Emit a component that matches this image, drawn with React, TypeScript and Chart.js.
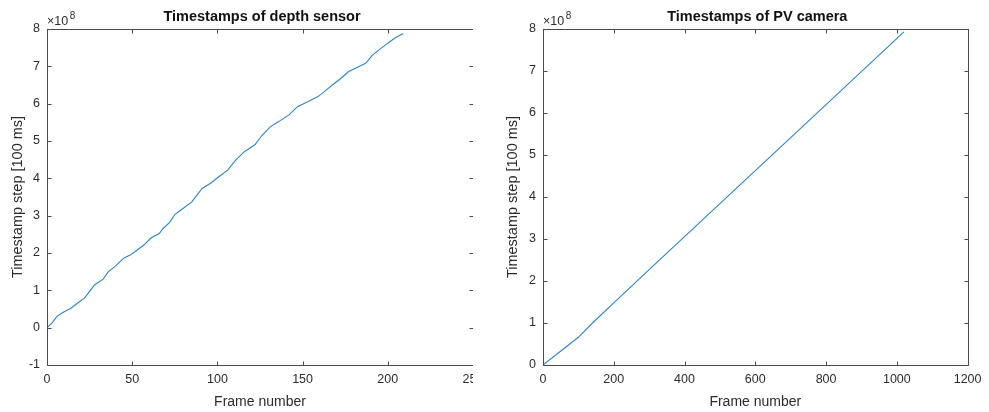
import React, { useEffect, useRef } from "react";
import { Chart, registerables } from "chart.js";

Chart.register(...registerables);

// ---- Data (timestamps in units of 1e8) ----
const depthFrames = [0, 3, 6, 9, 14, 18, 22, 25, 28, 33, 36, 40, 45, 49, 53, 57, 61, 66, 68, 72, 75, 80, 85, 88, 91, 96, 101, 106, 111, 116, 122, 126, 131, 136, 142, 147, 153, 159, 164, 168, 172, 177, 181, 187, 191, 196, 200, 204, 209];
const depthStampsE8 = [0, 0.13, 0.31, 0.4, 0.52, 0.66, 0.79, 0.97, 1.15, 1.3, 1.5, 1.64, 1.86, 1.95, 2.08, 2.22, 2.4, 2.53, 2.65, 2.82, 3.03, 3.2, 3.37, 3.55, 3.73, 3.87, 4.05, 4.22, 4.5, 4.72, 4.9, 5.14, 5.38, 5.52, 5.7, 5.92, 6.05, 6.19, 6.37, 6.52, 6.66, 6.86, 6.95, 7.08, 7.3, 7.48, 7.62, 7.75, 7.88];

const pvFrames = [0, 100, 140, 200, 300, 450, 600, 800, 1020];
const pvStampsE8 = [0, 0.66, 1.0, 1.48, 2.27, 3.45, 4.63, 6.2, 7.93];

const depthXTicks = { min: 0, max: 250, step: 50 };
const depthYTicks = { min: -1, max: 8, step: 1 };
const pvXTicks = { min: 0, max: 1200, step: 200 };
const pvYTicks = { min: 0, max: 8, step: 1 };

const depthTitle = "Timestamps of depth sensor";
const pvTitle = "Timestamps of PV camera";
const xTitle = "Frame number";
const yTitle = "Timestamp step [100 ms]";
const exponentBase = "\u00d710";
const exponentPower = "8";

// ---- Styles ----
const FONT = "'Liberation Sans', Arial, Helvetica, sans-serif";
const TEXT_COLOR = "#2b2b2b";
const AXIS_COLOR = "#4a4a4a";
const LINE_COLOR = "#2f83c4";
const TICK_LEN = 4;

type PanelProps = {
  left: number;
  canvasWidth: number;
  clipWidth: number;
  yAxisWidth: number;
  padRight: number;
  yTitleOffset: number;
  frames: number[];
  values: number[];
  xt: { min: number; max: number; step: number };
  yt: { min: number; max: number; step: number };
  title: string;
};

function Panel(p: PanelProps) {
  const ref = useRef<HTMLCanvasElement | null>(null);
  useEffect(() => {
    if (!ref.current) return;
    const axesPlugin = {
      id: "matlabAxes",
      afterDraw(chart: any) {
        const { ctx, chartArea: a, scales } = chart;
        const xs = scales.x;
        const ys = scales.y;
        ctx.save();
        ctx.strokeStyle = AXIS_COLOR;
        ctx.lineWidth = 1;
        const L = Math.round(a.left) + 0.5;
        const R = Math.round(a.right) + 0.5;
        const T = Math.round(a.top) + 0.5;
        const B = Math.round(a.bottom) + 0.5;
        ctx.strokeRect(L, T, R - L, B - T);
        ctx.beginPath();
        xs.ticks.forEach((t: any) => {
          const px = Math.round(xs.getPixelForValue(t.value)) + 0.5;
          ctx.moveTo(px, B);
          ctx.lineTo(px, B - TICK_LEN);
          ctx.moveTo(px, T);
          ctx.lineTo(px, T + TICK_LEN);
        });
        ys.ticks.forEach((t: any) => {
          const py = Math.round(ys.getPixelForValue(t.value)) + 0.5;
          ctx.moveTo(L, py);
          ctx.lineTo(L + TICK_LEN, py);
          ctx.moveTo(R, py);
          ctx.lineTo(R - TICK_LEN, py);
        });
        ctx.stroke();

        const cx = (a.left + a.right) / 2;
        const cy = (a.top + a.bottom) / 2;
        // title
        ctx.fillStyle = "#111";
        ctx.font = `bold 14.5px ${FONT}`;
        ctx.textAlign = "center";
        ctx.textBaseline = "alphabetic";
        ctx.fillText(p.title, cx + 2, 20.5);
        // exponent
        ctx.fillStyle = TEXT_COLOR;
        ctx.textAlign = "left";
        ctx.font = `12.5px ${FONT}`;
        ctx.fillText(exponentBase, a.left, 25);
        const w = ctx.measureText(exponentBase).width;
        ctx.font = `10px ${FONT}`;
        ctx.fillText(exponentPower, a.left + w + 1.5, 18.5);
        // x title
        ctx.font = `14px ${FONT}`;
        ctx.textAlign = "center";
        ctx.textBaseline = "middle";
        ctx.fillText(xTitle, cx, 402);
        // y title
        ctx.save();
        ctx.translate(a.left - p.yTitleOffset, cy);
        ctx.rotate(-Math.PI / 2);
        ctx.font = `14.5px ${FONT}`;
        ctx.fillText(yTitle, 0, 0);
        ctx.restore();
        ctx.restore();
      },
    };

    const chart = new Chart(ref.current, {
      type: "scatter",
      data: {
        datasets: [
          {
            data: p.frames.map((f, i) => ({ x: f, y: p.values[i] })),
            showLine: true,
            borderColor: LINE_COLOR,
            borderWidth: 1.1,
            pointRadius: 0,
            tension: 0,
            fill: false,
          },
        ],
      },
      options: {
        animation: false,
        responsive: false,
        maintainAspectRatio: false,
        layout: { padding: { left: 0, top: 29, right: p.padRight, bottom: 0 } },
        plugins: {
          legend: { display: false },
          tooltip: { enabled: false },
          title: { display: false },
        },
        scales: {
          x: {
            type: "linear",
            min: p.xt.min,
            max: p.xt.max,
            ticks: {
              stepSize: p.xt.step,
              padding: 7.5,
              color: TEXT_COLOR,
              font: { family: FONT, size: 12.5 },
              maxRotation: 0,
              autoSkip: false,
              callback: (v: any) => String(v),
            },
            grid: { display: false, drawTicks: false },
            border: { display: false },
            afterFit: (s: any) => {
              s.height = 47;
            },
          },
          y: {
            type: "linear",
            min: p.yt.min,
            max: p.yt.max,
            ticks: {
              stepSize: p.yt.step,
              padding: 7,
              color: TEXT_COLOR,
              font: { family: FONT, size: 12.5 },
              autoSkip: false,
              callback: (v: any) => String(v),
            },
            grid: { display: false, drawTicks: false },
            border: { display: false },
            afterFit: (s: any) => {
              s.width = p.yAxisWidth;
            },
          },
        },
      },
      plugins: [axesPlugin],
    } as any);
    return () => chart.destroy();
  }, []);

  return (
    <div
      style={{
        position: "absolute",
        left: p.left,
        top: 0,
        width: p.clipWidth,
        height: 412,
        overflow: "hidden",
      }}
    >
      <canvas
        ref={ref}
        width={p.canvasWidth}
        height={412}
        style={{ width: p.canvasWidth, height: 412, display: "block" }}
      />
    </div>
  );
}

export default function App() {
  return (
    <div
      style={{
        position: "fixed",
        left: 0,
        top: 0,
        width: 989,
        height: 412,
        background: "#fff",
        overflow: "hidden",
      }}
    >
      <Panel
        left={0}
        canvasWidth={500}
        clipWidth={473}
        yAxisWidth={47}
        padRight={27}
        yTitleOffset={29}
        frames={depthFrames}
        values={depthStampsE8}
        xt={depthXTicks}
        yt={depthYTicks}
        title={depthTitle}
      />
      <Panel
        left={500}
        canvasWidth={489}
        clipWidth={489}
        yAxisWidth={43}
        padRight={19}
        yTitleOffset={30}
        frames={pvFrames}
        values={pvStampsE8}
        xt={pvXTicks}
        yt={pvYTicks}
        title={pvTitle}
      />
    </div>
  );
}
